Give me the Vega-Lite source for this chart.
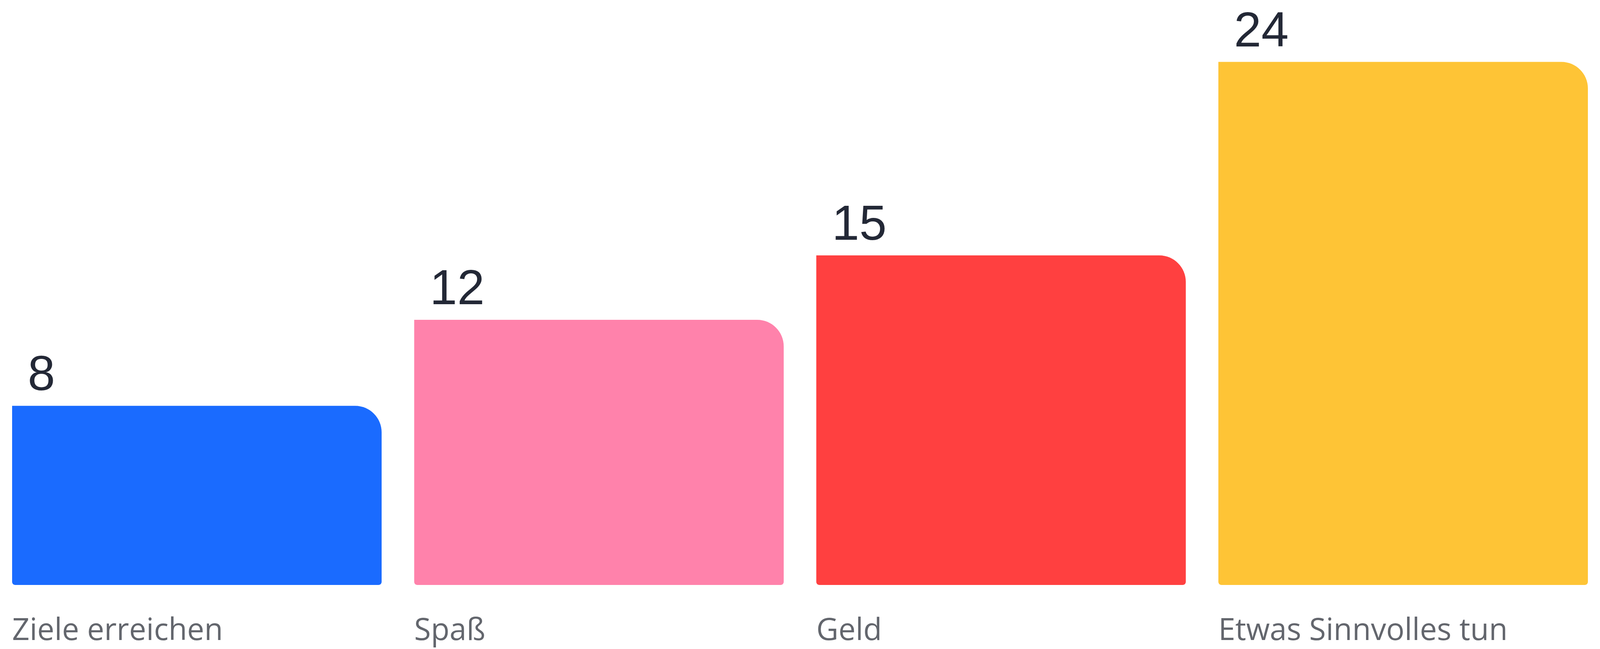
{
  "$schema": "https://vega.github.io/schema/vega-lite/v6.json",
  "width": "container",
  "height": 1662,
  "autosize": {"type": "fit", "contains": "padding"},
  "padding": {"left": 30, "top": 0, "right": 31, "bottom": 8},
  "background": "#ffffff",
  "config": {"view": {"stroke": null}},
  "data": {
    "values": [
      {"kategorie": "Ziele erreichen", "wert": 8, "farbe": "#1a6bff"},
      {"kategorie": "Spaß", "wert": 12, "farbe": "#ff82ab"},
      {"kategorie": "Geld", "wert": 15, "farbe": "#ff4040"},
      {"kategorie": "Etwas Sinnvolles tun", "wert": 24, "farbe": "#fec436"}
    ]
  },
  "encoding": {
    "x": {
      "field": "kategorie",
      "type": "nominal",
      "sort": null,
      "scale": {"paddingInner": 0.081, "paddingOuter": 0},
      "axis": {
        "title": null,
        "domain": false,
        "ticks": false,
        "tickSize": 0,
        "labelAngle": 0,
        "labelAlign": "left",
        "labelBaseline": "alphabetic",
        "labelOffset": {"expr": "-bandwidth('x')/2"},
        "labelPadding": 140,
        "labelFont": "Open Sans",
        "labelFontSize": 78,
        "labelColor": "#63666d",
        "labelLimit": 1200
      }
    }
  },
  "layer": [
    {
      "mark": {
        "type": "bar",
        "cornerRadiusTopRight": 68,
        "cornerRadiusTopLeft": 0,
        "cornerRadiusBottomLeft": 8,
        "cornerRadiusBottomRight": 8
      },
      "encoding": {
        "y": {
          "field": "wert",
          "type": "quantitative",
          "scale": {"domain": [-0.333, 26.88], "zero": false, "nice": false},
          "axis": null
        },
        "y2": {"datum": -0.333},
        "color": {"field": "farbe", "type": "nominal", "scale": null, "legend": null}
      }
    },
    {
      "mark": {
        "type": "text",
        "align": "left",
        "baseline": "alphabetic",
        "dx": 40,
        "dy": -40,
        "font": "Liberation Sans",
        "fontSize": 126,
        "color": "#232836"
      },
      "encoding": {
        "x": {"field": "kategorie", "type": "nominal", "sort": null, "bandPosition": 0},
        "y": {"field": "wert", "type": "quantitative"},
        "text": {"field": "wert", "type": "quantitative"}
      }
    }
  ]
}
